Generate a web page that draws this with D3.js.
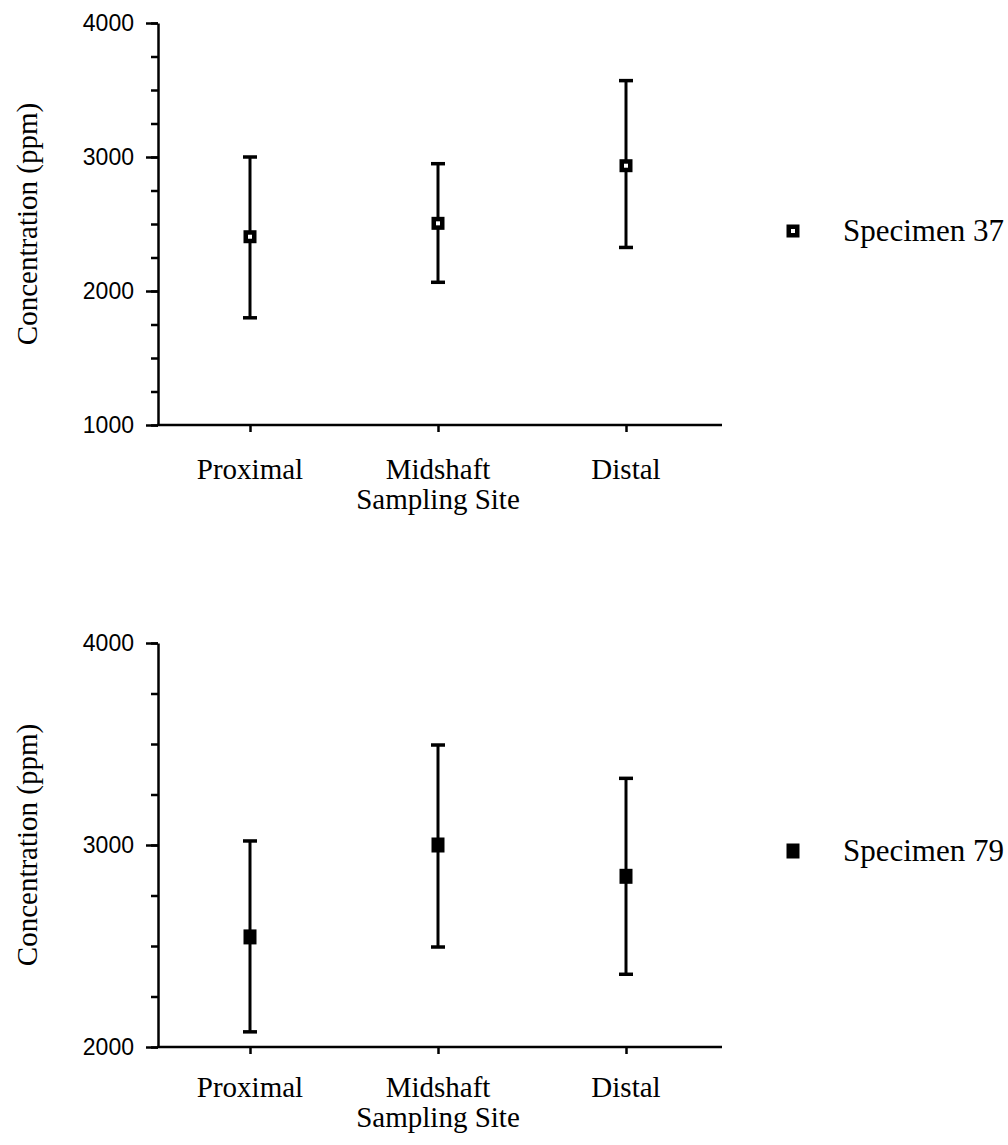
<!DOCTYPE html>
<html>
<head>
<meta charset="utf-8">
<script src="https://cdn.jsdelivr.net/npm/d3@7"></script>
<style>
  html, body { margin: 0; padding: 0; background: #fff; }
  svg { display: block; }
  .tick-label { font-family: "Liberation Sans", Arial, sans-serif; font-size: 23px; fill: #000; }
  .serif { font-family: "Liberation Serif", "Times New Roman", serif; font-size: 29px; fill: #000; }
  .legend { font-family: "Liberation Serif", "Times New Roman", serif; font-size: 31px; fill: #000; }
</style>
</head>
<body>
<script>
// Sampling sites along the bone
const sites = ["Proximal", "Midshaft", "Distal"];

// Specimen 37: mean concentration (ppm) with lower / upper error limits
const spec37Mean = [2405, 2505, 2935];
const spec37Low  = [1800, 2065, 2325];
const spec37High = [3000, 2950, 3570];

// Specimen 79: mean concentration (ppm) with lower / upper error limits
const spec79Mean = [2545, 3000, 2845];
const spec79Low  = [2075, 2495, 2360];
const spec79High = [3020, 3495, 3330];

// Y tick values for each panel
const topMajorTicks = [1000, 2000, 3000, 4000];
const topMinorTicks = d3.range(1000, 4001, 250);
const botMajorTicks = [2000, 3000, 4000];
const botMinorTicks = d3.range(2000, 4001, 250);

const yTitle = "Concentration (ppm)";
const xTitle = "Sampling Site";
const legendTop = "Specimen 37";
const legendBot = "Specimen 79";

const W = 1008, H = 1145;
const svg = d3.select("body").append("svg").attr("width", W).attr("height", H);

const x = d3.scalePoint().domain(sites).range([156, 720]).padding(0.5);
const axisLeftX = 158, axisRightX = 722;

function panel(cfg) {
  const g = svg.append("g");
  const y = d3.scaleLinear().domain(cfg.domain).range(cfg.range);

  // minor ticks
  const minor = g.append("g").attr("transform", `translate(${axisLeftX},0)`)
    .call(d3.axisLeft(y).tickValues(cfg.minor).tickSize(7).tickSizeOuter(0).tickFormat(""));
  minor.select(".domain").remove();
  minor.selectAll("line").attr("stroke", "#000").attr("stroke-width", 2.5);

  // major ticks with labels
  const major = g.append("g").attr("transform", `translate(${axisLeftX},0)`)
    .call(d3.axisLeft(y).tickValues(cfg.major).tickSize(12).tickSizeOuter(0).tickPadding(12).tickFormat(d3.format("d")));
  major.select(".domain").attr("stroke", "#000").attr("stroke-width", 2.5);
  major.selectAll("line").attr("stroke", "#000").attr("stroke-width", 2.5);
  major.selectAll("text").attr("class", "tick-label").attr("font-family", null).attr("font-size", null).attr("fill", null);

  // x axis
  const base = cfg.range[0];
  const xa = g.append("g").attr("transform", `translate(0,${base})`)
    .call(d3.axisBottom(x).tickSize(7).tickSizeOuter(0).tickFormat(""));
  xa.select(".domain").attr("d", `M${axisLeftX - 1},0H${axisRightX}`).attr("stroke", "#000").attr("stroke-width", 2.5);
  xa.selectAll("line").attr("stroke", "#000").attr("stroke-width", 2.5);

  // category labels
  g.selectAll("text.cat").data(sites).join("text")
    .attr("class", "serif cat")
    .attr("x", d => x(d)).attr("y", base + cfg.catOffset)
    .attr("text-anchor", "middle").text(d => d);
  g.append("text").attr("class", "serif")
    .attr("x", x("Midshaft")).attr("y", base + cfg.catOffset + 30)
    .attr("text-anchor", "middle").text(xTitle);

  // y title
  const yMid = (cfg.range[0] + cfg.range[1]) / 2;
  g.append("text").attr("class", "serif")
    .attr("transform", `translate(37,${yMid}) rotate(-90)`)
    .attr("text-anchor", "middle").text(yTitle);

  // error bars
  const bars = g.selectAll("g.bar").data(sites.map((s, i) => ({ s, m: cfg.mean[i], lo: cfg.low[i], hi: cfg.high[i] })))
    .join("g").attr("class", "bar");
  bars.append("line")
    .attr("x1", d => x(d.s)).attr("x2", d => x(d.s))
    .attr("y1", d => y(d.hi)).attr("y2", d => y(d.lo))
    .attr("stroke", "#000").attr("stroke-width", 3);
  bars.each(function (d) {
    const b = d3.select(this);
    [d.hi, d.lo].forEach(v => {
      b.append("line")
        .attr("x1", x(d.s) - 7).attr("x2", x(d.s) + 7)
        .attr("y1", y(v)).attr("y2", y(v))
        .attr("stroke", "#000").attr("stroke-width", 3.5);
    });
  });

  // markers
  bars.each(function (d) { cfg.marker(d3.select(this), x(d.s), y(d.m)); });

  // legend
  cfg.marker(g, 793, cfg.legendY);
  g.append("text").attr("class", "legend")
    .attr("x", 843).attr("y", cfg.legendY + 10).text(cfg.legend);
}

function hollowSquare(sel, cx, cy) {
  sel.append("rect").attr("x", cx - 4.25).attr("y", cy - 4.25).attr("width", 8.5).attr("height", 8.5)
    .attr("fill", "#fff").attr("stroke", "#000").attr("stroke-width", 4.5);
}
function filledSquare(sel, cx, cy) {
  sel.append("rect").attr("x", cx - 6.5).attr("y", cy - 7.5).attr("width", 13).attr("height", 15)
    .attr("fill", "#000");
}

panel({
  domain: [1000, 4000], range: [425, 23],
  major: topMajorTicks, minor: topMinorTicks,
  mean: spec37Mean, low: spec37Low, high: spec37High,
  marker: hollowSquare, legend: legendTop, legendY: 231, catOffset: 54
});

panel({
  domain: [2000, 4000], range: [1047, 643],
  major: botMajorTicks, minor: botMinorTicks,
  mean: spec79Mean, low: spec79Low, high: spec79High,
  marker: filledSquare, legend: legendBot, legendY: 851, catOffset: 50
});
</script>
</body>
</html>
